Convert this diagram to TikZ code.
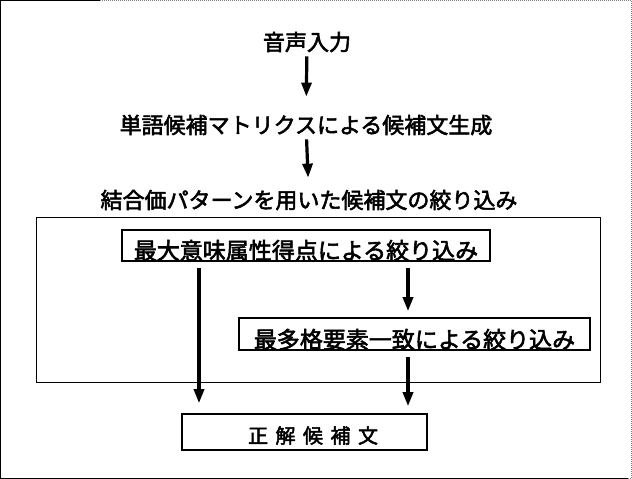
\documentclass[tikz,border=0pt]{standalone}
\usepackage{fontspec}
\setmainfont{Noto Sans CJK JP}
\newfontfamily\jpfont{Noto Sans CJK JP}[FakeBold=2.5]
\usetikzlibrary{arrows.meta,positioning}
\tikzset{
  flow/.style={line width=3.2pt,-{Triangle[width=10pt,length=14pt]}},
  stage/.style={font=\fontsize{22}{24}\jpfont,inner sep=0pt},
  stagebox/.style={stage,draw,line width=1.6pt,text depth=0pt},
  big/.style={font=\fontsize{23}{25}\jpfont}
}
\begin{document}
\begin{tikzpicture}[x=1pt,y=-1pt]
\useasboundingbox (0,0) rectangle (632,479);
% page frame
\draw[line width=1pt] (100,0.5) -- (0.5,0.5) -- (0.5,478.5) -- (628,478.5);
\draw[line width=1pt,densely dotted,gray] (100,0.5) -- (631.5,0.5) -- (631.5,478.5) -- (628,478.5);
% steps
\node[stage] (input) at (307,42) {音声入力};
\node[stage] (gen) at (306,125) {単語候補マトリクスによる候補文生成};
\node[stage] (filt) at (309,200) {結合価パターンを用いた候補文の絞り込み};
\node[draw,line width=1pt,minimum width=564pt,minimum height=165pt] (frame) at (318,300) {};
\node[stagebox,big,text height=27.4pt,minimum width=368pt,minimum height=31pt] (score) at (306,245.5) {最大意味属性得点による絞り込み};
\node[stagebox,big,text height=28.4pt,minimum width=351pt,minimum height=32pt] (caseelt) at (414.5,334) {最多格要素一致による絞り込み};
\node[stagebox,font=\fontsize{20}{22}\jpfont,text height=22.2pt,minimum width=245pt,minimum height=36pt] (result) at (304.5,432) {\hspace*{17pt}正\hspace{7.5pt}解\hspace{7.5pt}候\hspace{7.5pt}補\hspace{7.5pt}文};
% connectors
\coordinate (lx) at (199,0);
\coordinate (rx) at (408,0);
\draw[flow,shorten <=4pt,shorten >=18pt] (input) -- (gen);
\draw[flow,shorten <=4pt,shorten >=12pt] (gen) -- (filt);
\draw[flow,shorten <=6pt,shorten >=10pt] (score.south -| lx) -- (result.north -| lx);
\draw[flow,shorten <=6pt,shorten >=6pt] (score.south -| rx) -- (caseelt.north -| rx);
\draw[flow,shorten <=6pt,shorten >=7pt] (caseelt.south -| rx) -- (result.north -| rx);
\end{tikzpicture}
\end{document}
